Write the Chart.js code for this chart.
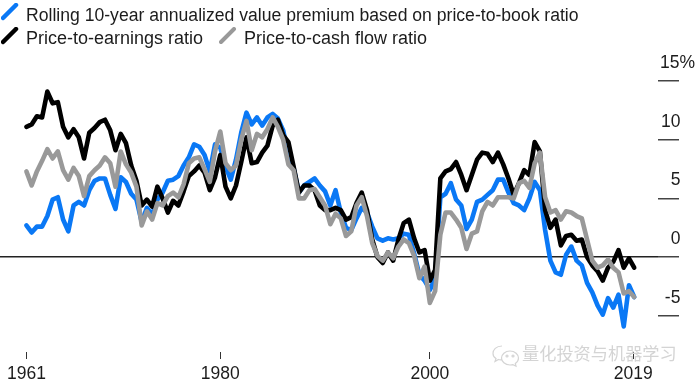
<!DOCTYPE HTML>
<html>

<head>
    <meta charset="utf-8">
    <script src="https://cdn.jsdelivr.net/npm/chart.js@4"></script>
    <style>
        html, body { margin: 0; padding: 0; background: #fff; }
        #wrap { position: relative; width: 700px; height: 385px; overflow: hidden; font-family: "Liberation Sans", Arial, sans-serif; color: #1c1c1c; }
        canvas { position: absolute; left: 0; top: 0; }
        .lg { position: absolute; font-size: 18px; line-height: 20px; white-space: nowrap; }
        .key { position: absolute; width: 18px; height: 18px; }
        #mark { position: absolute; left: 522px; top: 342px; font-family: "Noto Sans CJK SC", sans-serif; font-size: 17.2px; line-height: 22px; color: #d4d4d4; white-space: nowrap; }
        #icon { position: absolute; left: 491px; top: 344px; }
    </style>
</head>

<body>
    <div id="wrap">
        <canvas id="myChart" width="700" height="385"></canvas>
        <svg class="key" style="left:1px;top:3px"><line x1="2" y1="15" x2="15" y2="2" stroke="#0a78f5" stroke-width="4.500" stroke-linecap="round" /></svg>
        <div class="lg" style="left:26px;top:5px;font-size:17.6px">Rolling 10-year annualized value premium based on price-to-book ratio</div>
        <svg class="key" style="left:1px;top:27px"><line x1="2" y1="15" x2="15" y2="2" stroke="#000" stroke-width="4.500" stroke-linecap="round" /></svg>
        <div class="lg" style="left:26px;top:28px">Price-to-earnings ratio</div>
        <svg class="key" style="left:219px;top:27px"><line x1="2" y1="15" x2="15" y2="2" stroke="#999" stroke-width="4" stroke-linecap="round" /></svg>
        <div class="lg" style="left:244px;top:28px">Price-to-cash flow ratio</div>
        <svg id="icon" width="30" height="24" fill="none" stroke="#d4d4d4" stroke-width="1.2">
            <path d="M11 2C5 2 2 6 2 9.5c0 2 1 4 3 5l-1 3 3.500-2c1 .3 2.500 .4 3.500 .2" />
            <path d="M19 7c-5 0-8.500 3.500-8.500 7s3.500 7 8.500 7c1 0 2 0 3-.4l3 1.600-.7-2.800c2-1.300 3.200-3.200 3.200-5.400 0-3.500-3.500-7-8.500-7z" />
            <circle cx="16" cy="12" r="1" /><circle cx="22" cy="12" r="1" />
        </svg>
        <div id="mark">量化投资与机器学习</div>
    </div>
</body>
<script>
    var years = [1961.5,1962,1962.5,1963,1963.5,1964,1964.5,1965,1965.5,1966,1966.5,1967,1967.5,1968,1968.5,1969,1969.5,1970,1970.5,1971,1971.5,1972,1972.5,1973,1973.5,1974,1974.5,1975,1975.5,1976,1976.5,1977,1977.5,1978,1978.5,1979,1979.5,1980,1980.5,1981,1981.5,1982,1982.5,1983,1983.5,1984,1984.5,1985,1985.5,1986,1986.5,1987,1987.5,1988,1988.5,1989,1989.5,1990,1990.5,1991,1991.5,1992,1992.5,1993,1993.5,1994,1994.5,1995,1995.5,1996,1996.5,1997,1997.5,1998,1998.5,1999,1999.5,2000,2000.5,2001,2001.5,2002,2002.5,2003,2003.5,2004,2004.5,2005,2005.5,2006,2006.5,2007,2007.5,2008,2008.5,2009,2009.5,2010,2010.5,2011,2011.5,2012,2012.5,2013,2013.5,2014,2014.5,2015,2015.5,2016,2016.5,2017,2017.5,2018,2018.5,2019,2019.5];

    var priceToBook = [2.7,2.1,2.6,2.6,3.5,4.9,5.1,3.2,2.2,4.4,4.7,4.4,5.7,6.5,6.7,6.7,5.3,4.1,6.8,6.4,5.4,4.9,3.0,4.2,3.6,4.9,5.5,6.5,6.6,6.9,
        7.8,8.5,9.6,9.4,8.7,7.3,9.6,9.3,7.7,6.6,8.3,10.6,12.3,11.3,11.9,11.2,11.9,12.2,11.8,10.8,8.7,7.6,5.5,6.1,6.4,6.7,6.1,5.6,
        4.4,5.7,3.8,2.5,2.3,3.3,4.2,3.8,2.6,1.6,1.4,1.6,1.5,1.6,2.0,1.9,0.3,-1.5,-2.0,-2.8,-1.8,5.1,5.4,6.3,4.9,4.4,2.4,3.2,4.7,
        4.9,5.3,5.7,6.6,6.6,5.5,4.6,4.4,4.0,5.0,6.4,5.7,2.3,-0.3,-1.3,-1.5,0.2,0.9,-0.3,-0.7,-2.2,-3.0,-4.1,-4.9,-3.5,-4.3,-3.2,-5.9,-2.4,-3.4];

    var priceToEarnings = [11.1,11.3,12.0,11.9,14.1,13.1,13.2,11.1,10.2,10.9,10.2,8.4,10.6,11.0,11.5,11.7,10.8,9.1,10.5,9.7,7.8,6.5,4.4,4.9,4.3,6.0,5.0,3.8,4.8,4.4,
        5.6,6.9,7.3,7.8,7.2,5.7,6.8,8.7,6.0,5.0,6.1,8.1,10.2,8.0,8.1,8.9,9.5,11.2,11.7,10.4,9.8,7.7,5.5,6.1,6.1,5.7,4.4,4.0,
        4.0,4.2,4.0,3.2,3.4,4.6,5.5,4.0,1.5,0.0,-0.5,0.4,-0.3,1.5,2.9,3.2,1.6,0.4,0.6,-2.0,-1.1,6.7,7.3,7.5,8.1,7.0,5.7,7.0,8.3,
        8.9,8.8,8.1,8.9,7.9,6.7,5.3,6.3,7.4,7.0,9.8,9.0,4.0,2.5,3.2,1.0,1.8,1.9,1.4,1.5,0.0,-0.7,-1.2,-2.0,-0.9,-0.4,0.6,-0.9,-0.1,-0.9];

    var priceToCashFlow = [7.3,6.1,7.3,8.2,9.2,8.4,9.0,7.4,6.6,7.6,6.9,5.2,6.9,7.4,7.8,8.5,8.0,6.0,9.0,7.9,7.2,6.0,2.7,3.9,3.2,4.6,4.4,5.2,5.5,5.1,
        6.2,8.0,8.4,8.5,7.5,6.4,9.0,10.7,8.0,7.4,7.8,10.0,11.6,9.1,10.5,10.2,10.9,11.9,11.1,10.0,7.9,7.4,5.0,5.0,5.7,5.8,5.1,4.4,
        2.8,3.7,3.3,1.8,2.2,4.4,5.1,3.5,1.2,0.1,-0.3,0.4,-0.1,0.9,1.5,1.2,0.1,-1.8,-0.8,-3.9,-2.9,1.9,3.8,3.8,3.2,2.5,0.7,2.0,2.2,
        3.9,4.7,4.4,5.1,5.1,5.1,5.0,6.3,6.5,5.9,8.0,8.9,5.1,3.8,4.0,3.2,3.9,3.8,3.5,3.3,1.5,-0.3,-0.9,-0.7,-0.2,-0.9,-1.3,-3.1,-2.9,-3.4];

    var xTickValues = [1961.5, 1980, 2000, 2019.4];
    var xTickLabels = ["1961", "1980", "2000", "2019"];
    var yTickValues = [-5, 0, 5, 10, 15];
    // nbsp padding so the digits line up and the % hangs to the right
    var yTickLabels = ["-5\u00a0\u00a0\u00a0", "0\u00a0\u00a0\u00a0", "5\u00a0\u00a0\u00a0", "10\u00a0\u00a0\u00a0", "15%"];

    function points(values) {
        return values.map(function (v, i) { return { x: years[i], y: v }; });
    }

    function series(values, color, order) {
        return {
            data: points(values),
            borderColor: color,
            borderWidth: 4.6,
            borderJoinStyle: "round",
            borderCapStyle: "round",
            pointRadius: 0,
            tension: 0,
            order: order
        };
    }

    function setTicks(values) {
        return function (scale) {
            scale.ticks = values.map(function (v) { return { value: v }; });
        };
    }

    var chart = new Chart("myChart", {
        type: "line",
        data: {
            datasets: [
                series(priceToBook, "#0a78f5", 3),
                series(priceToEarnings, "#000000", 2),
                series(priceToCashFlow, "#999999", 1)
            ]
        },
        options: {
            responsive: false,
            animation: false,
            // the right padding sets where the y labels end
            layout: { padding: { top: 81, left: 0, right: 5, bottom: 0 } },
            plugins: { legend: { display: false }, tooltip: { enabled: false } },
            scales: {
                x: {
                    type: "linear",
                    min: 1958.98,
                    max: 2021.77,
                    afterBuildTicks: setTicks(xTickValues),
                    afterFit: function (scale) { scale.height = 33; },
                    border: { display: false },
                    grid: { drawOnChartArea: false, tickLength: 7, tickColor: "#333", tickWidth: 1 },
                    ticks: {
                        autoSkip: false,
                        maxRotation: 0,
                        padding: 5,
                        color: "#1c1c1c",
                        font: { family: "Liberation Sans", size: 17.5 },
                        callback: function (v) { return xTickLabels[xTickValues.indexOf(v)]; }
                    }
                },
                y: {
                    position: "right",
                    min: -8.08,
                    max: 15,
                    afterBuildTicks: setTicks(yTickValues),
                    afterFit: function (scale) { scale.width = 37; },
                    border: { display: false },
                    grid: {
                        tickLength: 21,
                        tickColor: "#444",
                        tickWidth: 1.5,
                        lineWidth: 1.5,
                        color: function (ctx) { return ctx.tick && ctx.tick.value === 0 ? "#222" : "rgba(0,0,0,0)"; }
                    },
                    ticks: {
                        crossAlign: "far",
                        labelOffset: -18,
                        color: "#1c1c1c",
                        font: { family: "Liberation Sans", size: 17.5 },
                        callback: function (v) { return yTickLabels[yTickValues.indexOf(v)]; }
                    }
                }
            }
        }
    });
</script>

</html>
